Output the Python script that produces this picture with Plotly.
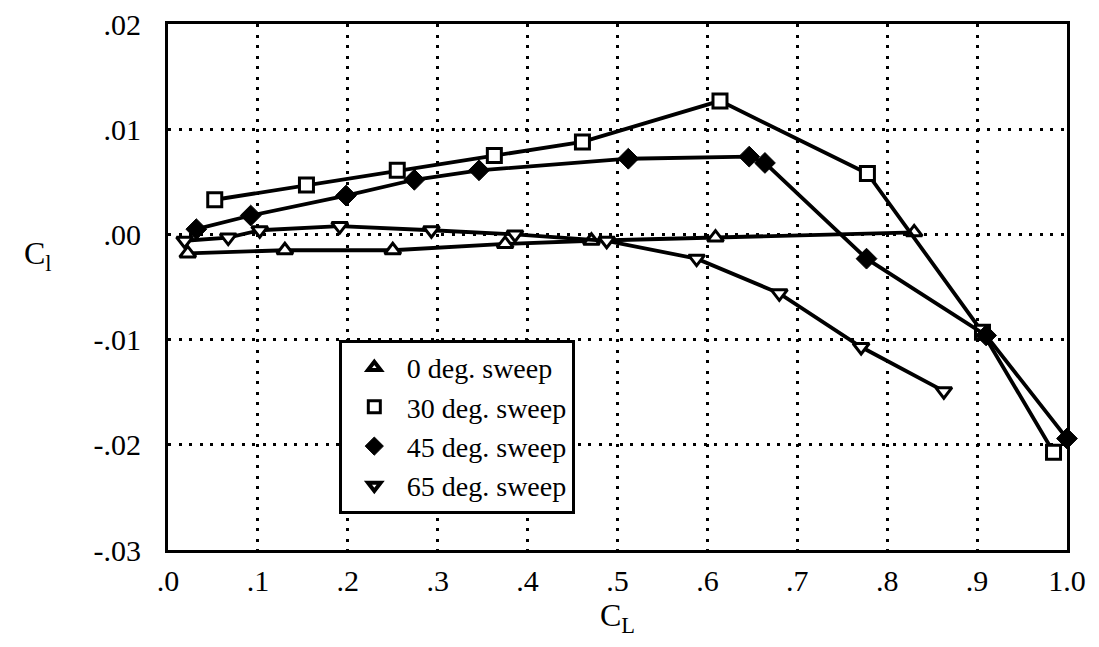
import plotly.graph_objects as go

# C_L values and rolling-moment coefficient C_l for each sweep angle
cl_0 = [0.022, 0.130, 0.250, 0.375, 0.471, 0.609, 0.830]
cr_0 = [-0.0018, -0.0015, -0.0015, -0.0009, -0.0006, -0.0003, 0.0002]

cl_30 = [0.052, 0.154, 0.255, 0.363, 0.461, 0.614, 0.778, 0.906, 0.985]
cr_30 = [0.0033, 0.0047, 0.0061, 0.0075, 0.0088, 0.0127, 0.0058, -0.0093, -0.0207]

cl_45 = [0.0315, 0.092, 0.198, 0.274, 0.346, 0.512, 0.6465, 0.664, 0.777, 0.910, 1.0]
cr_45 = [0.0005, 0.0018, 0.0037, 0.0052, 0.0061, 0.0072, 0.0074, 0.0068, -0.0023, -0.0096, -0.0194]

cl_65 = [0.0185, 0.067, 0.102, 0.191, 0.293, 0.386, 0.488, 0.588, 0.680, 0.771, 0.863]
cr_65 = [-0.0006, -0.0003, 0.0004, 0.0008, 0.0004, 0.0000, -0.0006, -0.0023, -0.0056, -0.0107, -0.0149]

series_names = ["0 deg. sweep", "30 deg. sweep", "45 deg. sweep", "65 deg. sweep"]

x_tickvals = [0.0, 0.1, 0.2, 0.3, 0.4, 0.5, 0.6, 0.7, 0.8, 0.9, 1.0]
x_ticktext = [".0", ".1", ".2", ".3", ".4", ".5", ".6", ".7", ".8", ".9", "1.0"]
y_tickvals = [0.02, 0.01, 0.0, -0.01, -0.02, -0.03]
y_ticktext = [".02", ".01", ".00", "-.01", "-.02", "-.03"]

FONT = "Liberation Serif, Times New Roman, serif"

styles = [
    dict(symbol="triangle-up", size=14, color="white", line=dict(color="black", width=3)),
    dict(symbol="square", size=14, color="white", line=dict(color="black", width=3)),
    dict(symbol="diamond", size=16, color="black", line=dict(color="black", width=1)),
    dict(symbol="triangle-down", size=14, color="white", line=dict(color="black", width=3)),
]
legend_styles = [
    dict(symbol="triangle-up", size=11, color="white", line=dict(color="black", width=4)),
    dict(symbol="square", size=12, color="white", line=dict(color="black", width=3)),
    dict(symbol="diamond", size=14, color="black", line=dict(color="black", width=1)),
    dict(symbol="triangle-down", size=11, color="white", line=dict(color="black", width=4)),
]
data = [(cl_0, cr_0), (cl_30, cr_30), (cl_45, cr_45), (cl_65, cr_65)]

fig = go.Figure()
for (xs, ys), st in zip(data, styles):
    fig.add_trace(go.Scatter(
        x=xs, y=ys, mode="lines+markers",
        line=dict(color="black", width=3.8),
        marker=st, showlegend=False, cliponaxis=False,
    ))
for name, st in zip(series_names, legend_styles):
    fig.add_trace(go.Scatter(
        x=[None], y=[None], mode="markers", name=name, marker=st,
    ))

grid_common = dict(
    showgrid=True, gridcolor="black", gridwidth=3, griddash="3px,7.5px",
    zeroline=False, showline=True, linecolor="black", linewidth=3, mirror=True,
    ticks="", tickfont=dict(family=FONT, size=30, color="black"),
    ticklabeloverflow="allow", automargin=False,
)

fig.update_xaxes(
    range=[0, 1.0], tickmode="array", tickvals=x_tickvals, ticktext=x_ticktext,
    ticklabelstandoff=2,
    title=dict(text="C<sub>L</sub>", font=dict(family=FONT, size=32, color="black"), standoff=4),
    **grid_common,
)
fig.update_yaxes(
    range=[-0.03, 0.02001], tickmode="array", tickvals=y_tickvals, ticktext=y_ticktext,
    ticklabelstandoff=18,
    **grid_common,
)

fig.update_layout(
    width=1099, height=647,
    margin=dict(l=160, r=40, t=16, b=105, autoexpand=False),
    paper_bgcolor="white", plot_bgcolor="white",
    font=dict(family=FONT, color="black"),
    legend=dict(
        x=0.19, y=0.40, xanchor="left", yanchor="top",
        bgcolor="white", bordercolor="black", borderwidth=3,
        font=dict(family=FONT, size=28, color="black"),
        itemwidth=55,
    ),
    annotations=[dict(
        text="C<sub>l</sub>", xref="paper", yref="paper",
        x=-0.145, y=0.56, xanchor="center", yanchor="middle",
        showarrow=False, font=dict(family=FONT, size=32, color="black"),
    )],
)

fig.write_html("out.html")
